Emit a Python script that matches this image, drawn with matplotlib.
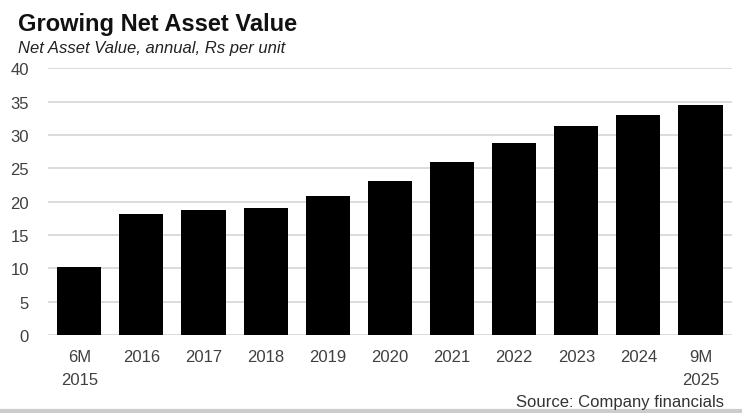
import matplotlib.pyplot as plt

plt.rcParams['font.family'] = ['Liberation Sans', 'DejaVu Sans']

categories = ['6M\n2015', '2016', '2017', '2018', '2019', '2020',
              '2021', '2022', '2023', '2024', '9M\n2025']
nav = [10.2, 18.1, 18.8, 19.0, 20.8, 23.1, 25.9, 28.8, 31.3, 33.0, 34.5]
yticks = [0, 5, 10, 15, 20, 25, 30, 35, 40]

fig = plt.figure(figsize=(7.42, 4.14), dpi=100)
ax = fig.add_axes([0.065, 0.188, 0.921, 0.645])

x = list(range(len(categories)))
ax.bar(x, nav, width=0.71, color='black', zorder=3)

ax.set_xlim(-0.5, len(categories) - 0.5)
ax.set_ylim(0, 40)
ax.set_yticks(yticks)
ax.set_xticks(x)
ax.set_xticklabels(categories, linespacing=1.7, va='top')
ax.tick_params(axis='both', length=0, labelsize=12, labelcolor='#404040')
ax.tick_params(axis='x', pad=10)
ax.tick_params(axis='y', pad=14)
ax.grid(axis='y', color='#d9d9d9', linewidth=1.3, zorder=0)
for s in ax.spines.values():
    s.set_visible(False)

fig.text(0.024, 0.925, 'Growing Net Asset Value', fontsize=17,
         fontweight='bold', color='#111111')
fig.text(0.024, 0.873, 'Net Asset Value, annual, Rs per unit', fontsize=12,
         style='italic', color='#222222')
fig.text(0.976, 0.018, 'Source: Company financials', fontsize=12,
         color='#333333', ha='right')

fig.add_artist(plt.Line2D([0, 1], [0.006, 0.006], color='#cccccc',
                          linewidth=3, transform=fig.transFigure))

fig.savefig('out.png', dpi=100)
